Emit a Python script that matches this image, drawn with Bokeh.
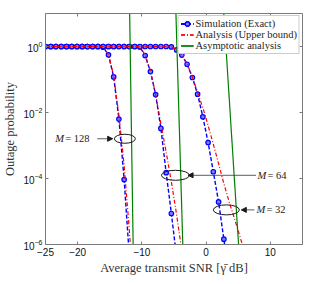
from bokeh.plotting import figure
from bokeh.models import LinearAxis, LogAxis, FixedTicker, Arrow, NormalHead, Range1d
from bokeh.embed import file_html
from bokeh.resources import INLINE
from bokeh.core.properties import value

# ---------------- data ----------------
SNR_DB = [-25.00, -24.18, -23.37, -22.55, -21.73, -20.92, -20.10, -19.29, -18.47, -17.65,
          -16.84, -16.02, -15.20, -14.39, -13.57, -12.76, -11.94, -11.12, -10.31, -9.49,
          -8.67, -7.86, -7.04, -6.22, -5.41, -4.59, -3.78, -2.96, -2.14, -1.33,
          -0.51, 0.31, 1.12, 1.94, 2.76, 3.57, 4.39, 5.20, 6.02]

SIM_128 = [1, 1, 1, 1, 1, 1, 1, 1, 1, 1, 1, 0.95, 0.56, 0.12, 6.3e-3, 9.3e-5, 4e-7]
ANA_128 = [1, 1, 1, 1, 1, 1, 1, 1, 1, 1, 1, 0.97, 0.58, 0.13, 8e-3, 2.5e-4, 2.5e-6, 1e-8]

SIM_64 = [1] * 18 + [0.97, 0.53, 0.174, 0.035, 3.3e-3, 1.5e-4, 8.7e-6, 4e-7]
ANA_64 = [1] * 18 + [0.98, 0.55, 0.18, 0.035, 4.5e-3, 6.3e-4, 7.9e-5, 7.9e-6, 6.3e-7]

SIM_32 = [1] * 24 + [0.97, 0.79, 0.55, 0.29, 0.115, 0.036, 7.4e-3, 1.23e-3, 1.6e-4,
                     1.95e-5, 1.45e-6, 1e-7]
ANA_32 = [1] * 24 + [0.98, 0.8, 0.56, 0.3, 0.12, 0.04, 0.014, 4e-3, 1.1e-3, 2.8e-4,
                     7e-5, 2e-5, 6.3e-6, 1.9e-6, 5.6e-7]

ASYM_128_X = [-11.90, -11.36]
ASYM_64_X = [-4.70, -3.63]
ASYM_32_X = [2.75, 5.05]
ASYM_Y = [10, 1e-6]

X_TICKS = [-25, -20, -10, 0, 10]
Y_TICKS = [1e-6, 1e-4, 1e-2, 1]

LABELS = ["= 128", "= 64", "= 32"]

# --------------- figure ---------------
SERIF = "Liberation Serif"
SANS = "Liberation Sans"
AX_COL = "#7a7a7a"

p = figure(frame_width=257, frame_height=231,
           x_range=Range1d(-25, 15), y_range=Range1d(1e-6, 10),
           y_axis_type="log", output_backend="svg", toolbar_location=None,
           min_border_left=35, min_border_top=13, min_border_right=16,
           min_border_bottom=8)
p.grid.visible = False
p.outline_line_color = None

sim_kw = dict(line_color="#0000ff", line_width=1.4, line_dash="4 2")
ana_kw = dict(line_color="#ff0000", line_width=1.2, line_dash="4 2 1 2")
asy_kw = dict(line_color="#008000", line_width=1.2)

for sim in (SIM_128, SIM_64, SIM_32):
    xs = SNR_DB[:len(sim)]
    p.line(xs, sim, legend_label="Simulation (Exact)", **sim_kw)
    p.scatter(xs, sim, marker="circle", size=4.5, line_color="#0000ff", line_width=1.2,
              fill_color="#7b7bff", legend_label="Simulation (Exact)")

for ana in (ANA_128, ANA_64, ANA_32):
    xs = SNR_DB[:len(ana)]
    p.line(xs, ana, legend_label="Analysis (Upper bound)", **ana_kw)

for ax in (ASYM_128_X, ASYM_64_X, ASYM_32_X):
    p.line(ax, ASYM_Y, legend_label="Asymptotic analysis", **asy_kw)

# annotations: ellipses, arrows, labels
ELL_X = [-12.65, -4.78, 3.15]
ELL_Y = [1.6e-3, 1.25e-4, 1.12e-5]
ELL_W = [21, 28, 26]
ELL_H = [9, 10, 10]
p.ellipse(x=ELL_X, y=ELL_Y, width=ELL_W, height=ELL_H, width_units="screen",
          height_units="screen", fill_color=None, line_color="#1a1a1a", line_width=1)

ARR = [(-16.95, -14.55), (7.77, -2.81), (7.5, 5.48)]
for (xs_, xe_), yy in zip(ARR, ELL_Y):
    p.add_layout(Arrow(end=NormalHead(size=5, fill_color="#1a1a1a", line_color="#1a1a1a"),
                       x_start=xs_, y_start=yy, x_end=xe_, y_end=yy,
                       line_color="#333333", line_width=0.8))

LAB_X = [-23.5, 8.0, 7.85]
p.text(x=LAB_X, y=ELL_Y, text=["M"] * 3, text_font=value(SERIF), text_font_style="italic",
       text_font_size="10.5px", text_baseline="middle", text_align="left", text_color="#1a1a1a")
p.text(x=LAB_X, y=ELL_Y, text=LABELS, x_offset=10, text_font=value(SERIF),
       text_font_size="10.5px", text_baseline="middle", text_align="left", text_color="#1a1a1a")

# axes
def style_axis(a, show_labels=True):
    a.axis_line_color = AX_COL
    a.major_tick_line_color = AX_COL
    a.minor_tick_line_color = None
    a.major_tick_in = 3
    a.major_tick_out = 0
    a.major_label_text_font = SANS
    a.major_label_text_font_size = "10px"
    a.major_label_text_color = "#111111"
    a.major_label_standoff = 3
    if not show_labels:
        a.major_label_text_font_size = "0px"
        a.major_label_text_alpha = 0

xa = p.xaxis[0]
xa.ticker = FixedTicker(ticks=X_TICKS)
style_axis(xa)
xa.axis_label = "Average transmit SNR [\u03b3\u0304 dB]"
xa.axis_label_text_font = SERIF
xa.axis_label_text_font_style = "normal"
xa.axis_label_text_font_size = "12.5px"
xa.axis_label_standoff = 2
xa.axis_label_text_color = "#333333"

ya = p.yaxis[0]
ya.ticker = FixedTicker(ticks=Y_TICKS)
style_axis(ya)
ya.axis_label = "Outage probability"
ya.axis_label_text_font = SERIF
ya.axis_label_text_font_style = "normal"
ya.axis_label_text_font_size = "12.5px"
ya.axis_label_standoff = 3
ya.axis_label_text_color = "#333333"

top = LinearAxis(ticker=FixedTicker(ticks=X_TICKS))
style_axis(top, False)
p.add_layout(top, "above")
right = LogAxis(ticker=FixedTicker(ticks=Y_TICKS))
style_axis(right, False)
p.add_layout(right, "right")

# legend
lg = p.legend[0]
lg.location = "top_right"
lg.margin = 2
lg.padding = 2
lg.spacing = 0
lg.glyph_width = 13
lg.glyph_height = 11
lg.label_height = 11
lg.label_standoff = 2
lg.label_text_font = SERIF
lg.label_text_font_size = "10.5px"
lg.label_text_color = "#262626"
lg.border_line_color = "#999999"
lg.border_line_width = 1
lg.background_fill_alpha = 1

open("out.html", "w").write(file_html(p, INLINE))
